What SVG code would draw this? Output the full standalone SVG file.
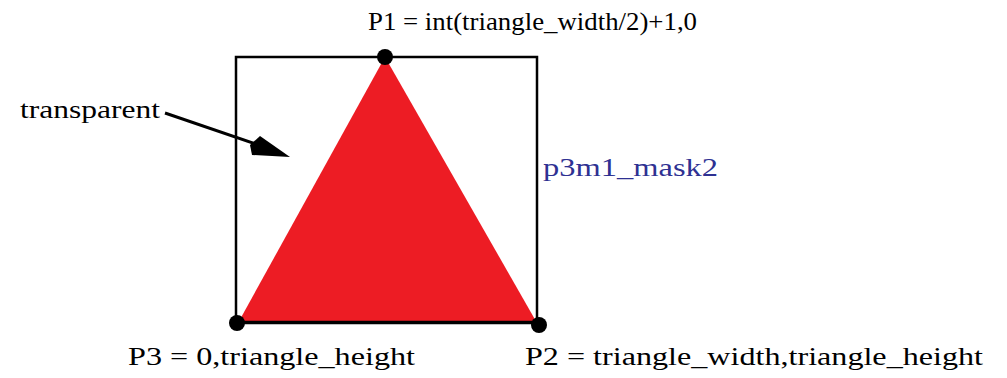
<svg xmlns="http://www.w3.org/2000/svg" width="1007" height="378" viewBox="0 0 1007 378">
<style>
text{font-family:"Liberation Serif","Times New Roman",Times,serif;font-size:26px;fill:#000}
.blue{fill:#2e3192}
.dot{fill:#000}
</style>
<rect width="1007" height="378" fill="#fff"/>
<g id="mask">
<rect x="236" y="57" width="301" height="266" fill="none" stroke="#000" stroke-width="2.5"/>
<polygon points="385,57 238,323 537,323" fill="#ed1c24"/>
<line x1="238" y1="322" x2="537" y2="322" stroke="#000" stroke-width="2.5"/>
</g>
<g id="p1"><circle class="dot" cx="385" cy="57" r="8"/><text x="368" y="30" textLength="329" lengthAdjust="spacingAndGlyphs">P1 = int(triangle_width/2)+1,0</text></g>
<g id="p3"><circle class="dot" cx="237" cy="323" r="8"/><text x="128" y="365" textLength="287" lengthAdjust="spacingAndGlyphs">P3 = 0,triangle_height</text></g>
<g id="p2"><circle class="dot" cx="539" cy="325" r="8"/><text x="525" y="365" textLength="458" lengthAdjust="spacingAndGlyphs">P2 = triangle_width,triangle_height</text></g>
<g id="label"><text class="blue" x="543" y="176" textLength="175" lengthAdjust="spacingAndGlyphs">p3m1_mask2</text></g>
<g id="transparent"><text x="20" y="118" textLength="140" lengthAdjust="spacingAndGlyphs">transparent</text></g>
<g id="connectors">
<line x1="165" y1="113" x2="256" y2="144" stroke="#000" stroke-width="3"/>
<polygon points="290,157 260,136 250,145 252,155" fill="#000"/>
</g>
</svg>
